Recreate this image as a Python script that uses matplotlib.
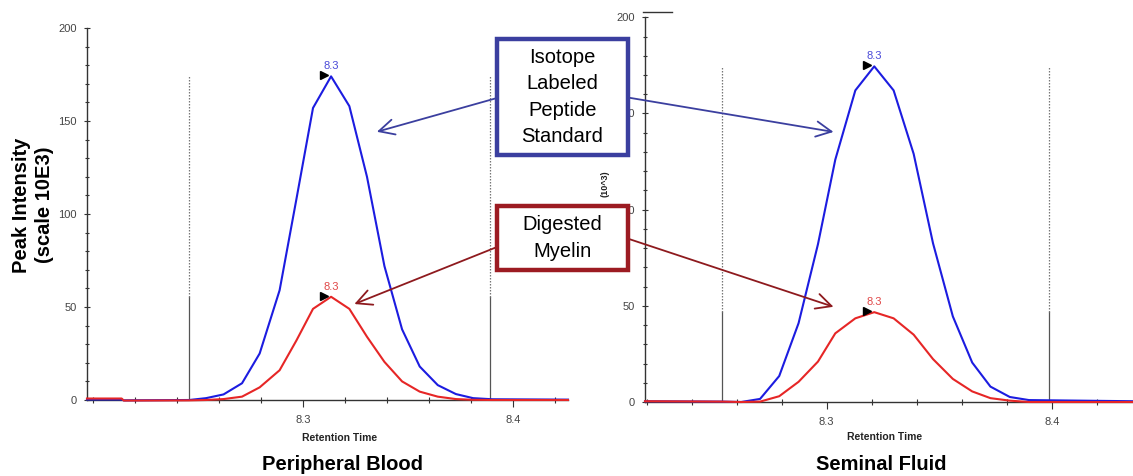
import numpy as np
import matplotlib
matplotlib.use("Agg")
import matplotlib.pyplot as plt
from matplotlib.ticker import MultipleLocator
from matplotlib.patches import Rectangle
from matplotlib.lines import Line2D
from matplotlib import transforms

plt.rcParams['font.family'] = ['Liberation Sans', 'DejaVu Sans']

W, H = 1133, 476

# peripheral blood chromatogram (retention time in min, intensity x10^3)
pb_time = [8.197, 8.2135, 8.2145, 8.2457, 8.2537, 8.2620, 8.2708, 8.2792, 8.2887, 8.2967,
           8.3046, 8.3132, 8.3219, 8.3303, 8.3386, 8.3470, 8.3554, 8.3640, 8.3726, 8.3808,
           8.3899, 8.426]
pb_std = [0.3, 0.3, -0.2, 0.0, 1.0, 3.0, 9, 25, 59, 108,
          157, 174, 158, 120, 72, 38, 18, 8, 3.2, 1.0,
          0.4, 0.2]
pb_myelin = [0.8, 0.8, -0.3, -0.2, 0.0, 0.5, 1.8, 6.8, 16, 32,
             49, 55.5, 49, 34, 20.5, 10, 4.5, 1.8, 0.5, 0.1,
             0.0, 0.0]
pb_bounds = [8.2457, 8.389]

# seminal fluid chromatogram
sf_time = [8.2193, 8.2536, 8.2620, 8.2704, 8.2789, 8.2875, 8.2961, 8.3038, 8.3127, 8.3211,
           8.3297, 8.3386, 8.3472, 8.3560, 8.3646, 8.3727, 8.3813, 8.3898, 8.436]
sf_std = [0.4, 0.2, 0.0, 1.6, 13.5, 41, 82, 126, 162, 174.5,
          162, 129, 82.5, 44.5, 20.5, 8, 2.6, 1.0, 0.4]
sf_myelin = [0.4, 0.2, 0.0, 0.2, 3.0, 10.5, 21, 35.7, 43.5, 46.7,
             43.5, 35, 22.3, 12, 5.5, 2.0, 0.7, 0.0, 0.0]
sf_bounds = [8.2536, 8.3987]

blue = '#1c1ce0'
red = '#e62626'
blue_lbl = '#4a4ad8'
red_lbl = '#e04848'
box_blue = '#3b3f9f'
box_red = '#9c1b22'


def fpos(x, y):
    return (x / W, 1 - y / H)


def draw_panel(ax, t, std, myelin, bounds, xlim):
    t = np.array(t)
    std = np.array(std)
    myelin = np.array(myelin)
    ax.plot(t, std, color=blue, lw=1.5, clip_on=False, zorder=3)
    ax.plot(t, myelin, color=red, lw=1.5, clip_on=False, zorder=4)

    # integration boundaries: solid to the smaller peak, dotted up to the larger one
    for b in bounds:
        ax.plot([b, b], [0, myelin.max()], color='#555555', lw=0.9, zorder=2)
        ax.plot([b, b], [myelin.max(), std.max()], color='#777777', lw=0.9,
                ls=(0, (1.2, 1.2)), zorder=2)

    # apex markers with retention time
    for y, col in [(std, blue_lbl), (myelin, red_lbl)]:
        i = int(np.argmax(y))
        tri = transforms.offset_copy(ax.transData, fig=ax.figure, x=-7, y=1, units='dots')
        ax.plot(t[i], y[i], marker='>', color='black', ms=5.5, transform=tri,
                clip_on=False, zorder=5)
        ax.annotate(f"{t[i]:.1f}", xy=(t[i], y[i]), xytext=(0, 3.5),
                    textcoords='offset points', ha='center', va='bottom',
                    fontsize=8, color=col)

    ax.set_xlim(*xlim)
    ax.set_ylim(0, 200)
    for s in ['top', 'right']:
        ax.spines[s].set_visible(False)
    for s in ['left', 'bottom']:
        ax.spines[s].set_color('#333333')
        ax.spines[s].set_linewidth(1.0)
    ax.set_xticks([8.3, 8.4])
    ax.set_xticklabels(['8.3', '8.4'])
    ax.xaxis.set_minor_locator(MultipleLocator(0.02))
    ax.set_yticks([0, 50, 100, 150, 200])
    ax.yaxis.set_minor_locator(MultipleLocator(10))
    ax.tick_params(axis='x', which='major', direction='out', length=5, width=0.8,
                   color='#333333', labelsize=8, labelcolor='#444444', pad=6)
    ax.tick_params(axis='x', which='minor', direction='inout', length=4, width=0.8,
                   color='#333333')
    ax.tick_params(axis='y', which='major', direction='inout', length=5, width=0.8,
                   color='#333333', labelsize=8, labelcolor='#444444', pad=5)
    ax.tick_params(axis='y', which='minor', direction='inout', length=3, width=0.8,
                   color='#333333')


fig = plt.figure(figsize=(W / 100, H / 100), dpi=100)
ax1 = fig.add_axes([87 / W, 76 / H, 481 / W, 372 / H])
ax2 = fig.add_axes([645 / W, 74 / H, 488 / W, 384.7 / H])

draw_panel(ax1, pb_time, pb_std, pb_myelin, pb_bounds, (8.197, 8.426))
draw_panel(ax2, sf_time, sf_std, sf_myelin, sf_bounds, (8.2193, 8.436))

# axis texts
fig.text(*fpos(340, 438), 'Retention Time', ha='center', va='center',
         fontsize=7.5, fontweight='bold', color='#222222')
fig.text(*fpos(885, 437), 'Retention Time', ha='center', va='center',
         fontsize=7.5, fontweight='bold', color='#222222')
fig.text(*fpos(343, 465), 'Peripheral Blood', ha='center', va='center',
         fontsize=14.5, fontweight='bold')
fig.text(*fpos(881, 465), 'Seminal Fluid', ha='center', va='center',
         fontsize=14.5, fontweight='bold')
fig.text(*fpos(33, 205), 'Peak Intensity\n(scale 10E3)', ha='center', va='center',
         rotation=90, fontsize=14.5, fontweight='bold', linespacing=1.2)
fig.text(*fpos(605, 184), '(10^3)', ha='center', va='center', rotation=90,
         fontsize=6.5, fontweight='bold', color='#222222')
fig.add_artist(Line2D([643 / W, 672 / W], [1 - 12.3 / H, 1 - 12.3 / H],
                      color='#333333', lw=1.0))

# callout boxes
for (x0, y0, x1, y1, col, label) in [
        (497, 39, 628, 155, box_blue, 'Isotope\nLabeled\nPeptide\nStandard'),
        (497, 206, 628, 270, box_red, 'Digested\nMyelin')]:
    fig.add_artist(Rectangle(fpos(x0, y1), (x1 - x0) / W, (y1 - y0) / H,
                             transform=fig.transFigure, facecolor='white',
                             edgecolor=col, lw=3.2, zorder=6))
    fig.text(*fpos((x0 + x1) / 2, (y0 + y1) / 2), label, ha='center', va='center',
             fontsize=14.5, linespacing=1.5, zorder=7)

# callout arrows from the boxes to the peaks
arrow_kw = dict(arrowstyle='->,head_length=1.1,head_width=0.55', lw=1.3,
                shrinkA=0, shrinkB=0, mutation_scale=10)
for ax, xy, start, col in [
        (ax1, (8.3350, 144.2), (497, 98), box_blue),
        (ax1, (8.3243, 51.6), (497, 247), '#8e1a1e'),
        (ax2, (8.3030, 140.4), (629, 97.7), box_blue),
        (ax2, (8.3030, 49.5), (629, 239), '#8e1a1e')]:
    ax.annotate('', xy=xy, xycoords='data', xytext=fpos(*start),
                textcoords='figure fraction', annotation_clip=False,
                arrowprops=dict(color=col, **arrow_kw), zorder=8)

fig.savefig('out.png', dpi=100)
